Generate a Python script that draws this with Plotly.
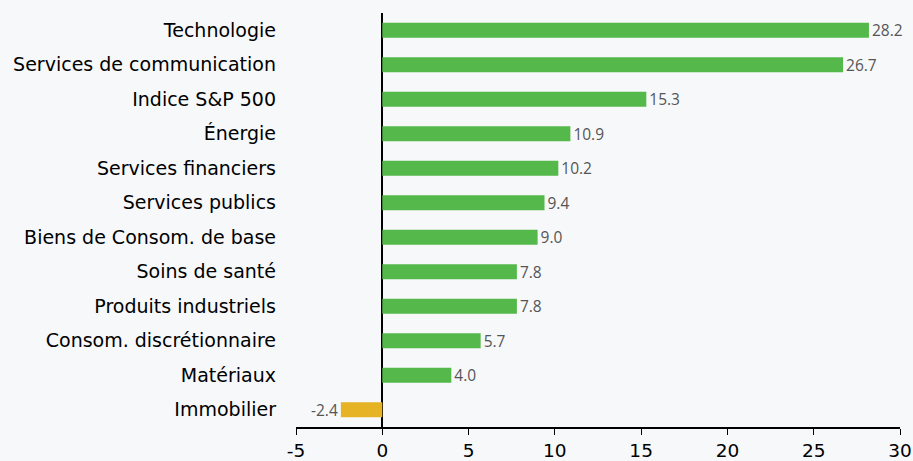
import plotly.graph_objects as go

# secteurs, du haut vers le bas
categories = [
    "Technologie",
    "Services de communication",
    "Indice S&P 500",
    "Énergie",
    "Services financiers",
    "Services publics",
    "Biens de Consom. de base",
    "Soins de santé",
    "Produits industriels",
    "Consom. discrétionnaire",
    "Matériaux",
    "Immobilier",
]
values = [28.2, 26.7, 15.3, 10.9, 10.2, 9.4, 9.0, 7.8, 7.8, 5.7, 4.0, -2.4]
x_ticks = [-5, 0, 5, 10, 15, 20, 25, 30]
x_tick_labels = ["-5", "0", "5", "10", "15", "20", "25", "30"]

GREEN = "#55b84a"
GOLD = "#e6b324"
BG = "#f7f8fa"

colors = [GREEN if v >= 0 else GOLD for v in values]

fig = go.Figure(
    go.Bar(
        x=values,
        y=categories,
        orientation="h",
        marker=dict(color=colors, line=dict(width=0)),
        width=0.44,
        text=[f"{v:.1f}" for v in values],
        textposition="outside",
        constraintext="none",
        cliponaxis=False,
        textfont=dict(family="Open Sans", size=15.5, color="#555555"),
    )
)

fig.update_xaxes(
    range=[-5, 30],
    tickvals=x_ticks,
    ticktext=x_tick_labels,
    automargin=False,
    showgrid=False,
    showline=True,
    linecolor="black",
    linewidth=1.5,
    ticks="outside",
    ticklen=6,
    tickcolor="black",
    tickfont=dict(family="DejaVu Sans", size=18.5, color="black"),
    zeroline=True,
    zerolinecolor="black",
    zerolinewidth=1.5,
)
fig.update_yaxes(
    autorange="reversed",
    automargin=False,
    showgrid=False,
    ticks="",
    ticklabelstandoff=19,
    tickfont=dict(family="DejaVu Sans", size=19, color="black"),
)

fig.update_layout(
    width=913,
    height=461,
    margin=dict(l=296, r=13, t=13, b=34),
    paper_bgcolor=BG,
    plot_bgcolor=BG,
    showlegend=False,
)

# pas de marge autour du graphique dans la page
fig.write_html(
    "out.html",
    config={"displayModeBar": False},
    post_script="document.body.style.margin='0';",
)
